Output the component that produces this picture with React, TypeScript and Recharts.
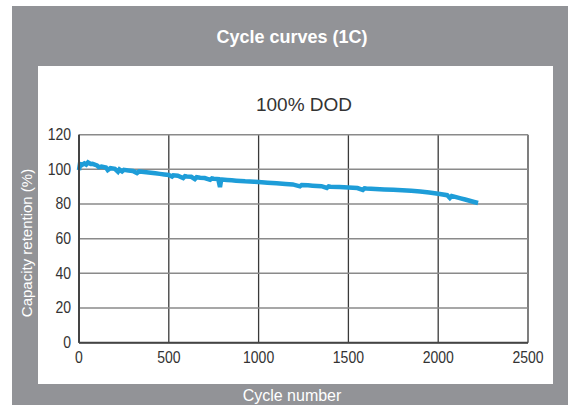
import React from "react";
import { LineChart, Line, XAxis, YAxis, CartesianGrid } from "recharts";

const cycles = [
  0, 5, 15, 30, 40, 50, 65, 75, 100, 110, 125, 150, 160, 175, 200, 217, 225, 240, 250, 275, 300, 323,
  335, 350, 375, 400, 425, 450, 475, 500, 518, 525, 550, 580, 590, 600, 625, 645, 655, 675, 700, 730,
  740, 750, 775, 785, 792, 825, 850, 875, 900, 925, 950, 975, 1000, 1050, 1100, 1150, 1190, 1230,
  1240, 1275, 1300, 1350, 1380, 1390, 1400, 1450, 1500, 1550, 1580, 1590, 1600, 1650, 1700, 1750,
  1800, 1850, 1900, 1950, 2000, 2050, 2065, 2075, 2100, 2125, 2150, 2175, 2200, 2222,
];
const retention = [
  99.6, 103.0, 102.4, 103.4, 102.8, 104.0, 103.1, 103.2, 102.3, 101.3, 101.6, 101.1, 99.6, 100.7,
  100.3, 98.6, 99.9, 98.8, 99.7, 99.4, 99.1, 97.9, 98.8, 98.6, 98.3, 98.0, 97.7, 97.4, 97.1, 96.8,
  95.9, 96.6, 96.3, 95.0, 96.1, 95.9, 95.7, 94.4, 95.5, 95.2, 95.0, 94.0, 94.8, 94.6, 94.4, 89.8,
  94.2, 93.9, 93.7, 93.5, 93.3, 93.1, 93.0, 92.9, 92.7, 92.3, 92.0, 91.6, 91.3, 90.2, 91.0, 90.8,
  90.6, 90.3, 89.3, 90.2, 90.0, 89.8, 89.5, 89.2, 88.1, 89.1, 89.0, 88.7, 88.4, 88.2, 87.9, 87.6,
  87.2, 86.6, 85.9, 85.1, 83.5, 84.6, 84.0, 83.3, 82.6, 81.9, 81.2, 80.6,
];
const xTicks = [0, 500, 1000, 1500, 2000, 2500];
const yTicks = [0, 20, 40, 60, 80, 100, 120];

const data = cycles.map((c, i) => ({ cycle: c, value: retention[i] }));

const FONT = "'Liberation Sans', Arial, Helvetica, sans-serif";

const XTick = (props: any) => {
  const { x, y, payload } = props;
  return (
    <g transform={`translate(${x},${y})`}>
      <text
        transform="scale(1,1.15)"
        x={0}
        y={11}
        textAnchor="middle"
        fill="#333"
        fontSize={14}
        fontFamily={FONT}
      >
        {payload.value}
      </text>
    </g>
  );
};

const YTick = (props: any) => {
  const { x, y, payload } = props;
  return (
    <g transform={`translate(${x},${y})`}>
      <text
        transform="scale(1,1.15)"
        x={0}
        y={4.5}
        textAnchor="end"
        fill="#333"
        fontSize={14}
        fontFamily={FONT}
      >
        {payload.value}
      </text>
    </g>
  );
};

export default function App() {
  return (
    <div style={{ position: "absolute", left: 0, top: 0, width: 578, height: 405, background: "#fff", overflow: "hidden" }}>
      <div style={{ position: "absolute", left: 12, top: 6, width: 556, height: 399, background: "#929397" }} />
      <div style={{ position: "absolute", left: 38, top: 66, width: 515, height: 318, background: "#ffffff" }} />
      <svg width={578} height={405} style={{ position: "absolute", left: 0, top: 0 }}>
        <text x={292} y={43} textAnchor="middle" fill="#fff" fontSize={18} fontWeight="bold" fontFamily={FONT}>
          Cycle curves (1C)
        </text>
        <text x={304} y={111} textAnchor="middle" fill="#333" fontSize={19} fontFamily={FONT}>
          100% DOD
        </text>
        <text
          x={0}
          y={0}
          transform="translate(32,243) rotate(-90)"
          textAnchor="middle"
          fill="#fff"
          fontSize={15}
          fontFamily={FONT}
        >
          Capacity retention (%)
        </text>
        <text x={292} y={401} textAnchor="middle" fill="#fff" fontSize={16} fontFamily={FONT}>
          Cycle number
        </text>
      </svg>
      <div style={{ position: "absolute", left: 0, top: 0 }}>
        <LineChart
          width={578}
          height={405}
          data={data}
          margin={{ top: 134.7, right: 50, bottom: 32.3, left: 19 }}
        >
          <CartesianGrid horizontal={false} stroke="#3a3a3a" strokeWidth={1.3} />
          <CartesianGrid vertical={false} stroke="#8a8a8a" strokeWidth={1.5} />
          <XAxis
            type="number"
            dataKey="cycle"
            domain={[0, 2500]}
            ticks={xTicks}
            tick={<XTick />}
            tickLine={false}
            axisLine={{ stroke: "#444", strokeWidth: 2 }}
            height={30}
            interval={0}
          />
          <YAxis
            type="number"
            domain={[0, 120]}
            ticks={yTicks}
            tick={<YTick />}
            tickLine={false}
            axisLine={{ stroke: "#444", strokeWidth: 2 }}
            width={60}
            interval={0}
          />
          <Line
            type="linear"
            dataKey="value"
            stroke="#1e9dd8"
            strokeWidth={4.5}
            dot={false}
            isAnimationActive={false}
          />
        </LineChart>
      </div>
    </div>
  );
}
